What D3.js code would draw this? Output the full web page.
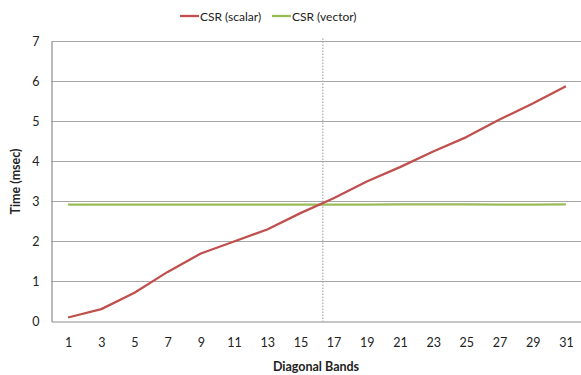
<!DOCTYPE html>
<html>
<head>
<meta charset="utf-8">
<script src="https://cdn.jsdelivr.net/npm/d3@7"></script>
<style>
  html, body { margin: 0; padding: 0; background: #fff; }
  svg { display: block; font-family: Lato, "Open Sans", sans-serif; }
</style>
</head>
<body>
<svg id="chart" width="581" height="375"></svg>
<script>
// Diagonal band counts on the x axis
const bands = [1, 3, 5, 7, 9, 11, 13, 15, 17, 19, 21, 23, 25, 27, 29, 31];
// Run time (msec) for each kernel
const csrScalar = [0.10, 0.31, 0.72, 1.24, 1.70, 2.00, 2.30, 2.71, 3.08, 3.50, 3.86, 4.25, 4.61, 5.05, 5.45, 5.88];
const csrVector = [2.92, 2.92, 2.92, 2.92, 2.92, 2.92, 2.92, 2.92, 2.92, 2.92, 2.93, 2.93, 2.93, 2.92, 2.92, 2.93];
const yTicks = [0, 1, 2, 3, 4, 5, 6, 7];
// Band count where the scalar kernel overtakes the vector kernel
const crossover = 16.35;

const seriesList = [
  { name: "CSR (scalar)", values: csrScalar, color: "#c0504d" },
  { name: "CSR (vector)", values: csrVector, color: "#9bbb59" }
];

const svg = d3.select("#chart");
const plot = { left: 51.5, right: 582.5, top: 41.5, bottom: 321.5 };

const x = d3.scaleLinear().domain([0, 32]).range([plot.left, plot.right]);
const y = d3.scaleLinear().domain([0, 7]).range([plot.bottom, plot.top]);

// Horizontal gridlines
svg.append("g")
  .selectAll("line")
  .data(yTicks.filter(d => d > 0))
  .join("line")
  .attr("x1", plot.left).attr("x2", plot.right)
  .attr("y1", d => y(d)).attr("y2", d => y(d))
  .attr("stroke", "#a6a6a6").attr("stroke-width", 1.2);

// Y axis (labels only, no ticks)
const yAxis = svg.append("g")
  .attr("transform", `translate(${plot.left},0)`)
  .call(d3.axisLeft(y).tickValues(yTicks).tickSize(0).tickPadding(12).tickFormat(d3.format("d")));
yAxis.select(".domain").attr("stroke", "#8c8c8c").attr("stroke-width", 1.2);
yAxis.selectAll("text").attr("font-size", 12.5).attr("fill", "#222").attr("font-family", "Lato, sans-serif");

// X axis
const xAxis = svg.append("g")
  .attr("transform", `translate(0,${plot.bottom})`)
  .call(d3.axisBottom(x).tickValues(bands).tickSize(0).tickPadding(17).tickFormat(d3.format("d")));
xAxis.select(".domain").attr("stroke", "#8c8c8c").attr("stroke-width", 1.2);
xAxis.selectAll("text").attr("font-size", 12.5).attr("fill", "#222").attr("font-family", "Lato, sans-serif");

// Crossover marker
svg.append("line")
  .attr("x1", x(crossover)).attr("x2", x(crossover))
  .attr("y1", plot.top - 3).attr("y2", plot.bottom)
  .attr("stroke", "#b0b0b0").attr("stroke-width", 1.3)
  .attr("stroke-dasharray", "1.5,1.5");

// Series lines
const line = d3.line().x((d, i) => x(bands[i])).y(d => y(d));
svg.append("g")
  .selectAll("path")
  .data(seriesList.slice().reverse())
  .join("path")
  .attr("d", d => line(d.values))
  .attr("fill", "none")
  .attr("stroke", d => d.color)
  .attr("stroke-width", 2.3)
  .attr("stroke-linejoin", "round");

// Axis titles
svg.append("text")
  .attr("x", (plot.left + plot.right) / 2 - 1).attr("y", 371)
  .attr("text-anchor", "middle")
  .attr("font-size", 12.5).attr("font-weight", "bold").attr("fill", "#222")
  .text("Diagonal Bands");

svg.append("text")
  .attr("transform", `translate(20,${(plot.top + plot.bottom) / 2}) rotate(-90)`)
  .attr("text-anchor", "middle")
  .attr("font-size", 12.5).attr("font-weight", "bold").attr("fill", "#222")
  .text("Time (msec)");

// Legend
const legendPos = [180, 272];
const legend = svg.append("g")
  .selectAll("g")
  .data(seriesList)
  .join("g")
  .attr("transform", (d, i) => `translate(${legendPos[i]},16)`);
legend.append("line")
  .attr("x1", 0).attr("x2", 19).attr("y1", 0).attr("y2", 0)
  .attr("stroke", d => d.color).attr("stroke-width", 2.3);
legend.append("text")
  .attr("x", 20).attr("y", 4.5)
  .attr("font-size", 12).attr("fill", "#222")
  .text(d => d.name);
</script>
</body>
</html>
